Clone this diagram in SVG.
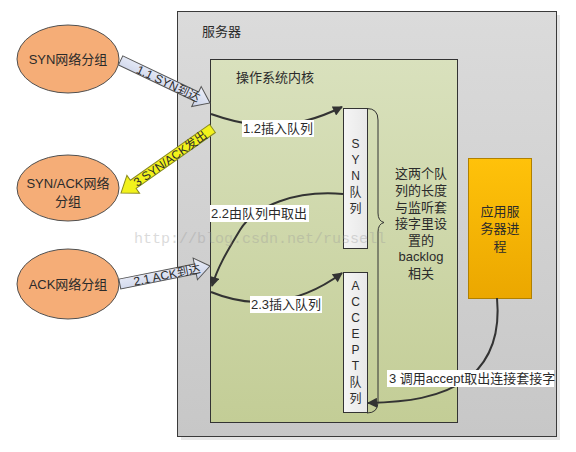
<svg xmlns="http://www.w3.org/2000/svg" width="576" height="452" viewBox="0 0 576 452">
<style>
text{font-family:"Liberation Sans","Noto Sans CJK SC",sans-serif;fill:#2b2b2b;}
.t13{font-size:13px;}
.t12{font-size:12px;}
.mid{text-anchor:middle;}
.conn{fill:none;stroke:#333;stroke-width:2;}
.lbl{fill:#fff;}
.ell{fill:#f5ad77;stroke:#505050;stroke-width:1;}
.q{fill:url(#gq);stroke:#333;stroke-width:1;}
</style>
<defs>
<linearGradient id="gs" x1="0" y1="0" x2="0" y2="1"><stop offset="0" stop-color="#dbdbdb"/><stop offset="1" stop-color="#c7c7c7"/></linearGradient>
<linearGradient id="gk" x1="0" y1="0" x2="0" y2="1"><stop offset="0" stop-color="#d9e1bd"/><stop offset="1" stop-color="#c3cd96"/></linearGradient>
<linearGradient id="gq" x1="0" y1="0" x2="1" y2="0"><stop offset="0" stop-color="#f5f5f5"/><stop offset="1" stop-color="#e8e8e8"/></linearGradient>
<linearGradient id="go" x1="0" y1="0" x2="0" y2="1"><stop offset="0" stop-color="#ffc20a"/><stop offset="1" stop-color="#eba700"/></linearGradient>
<linearGradient id="gb" x1="0" y1="0" x2="0" y2="1"><stop offset="0" stop-color="#eef1fa"/><stop offset="1" stop-color="#c9d1e8"/></linearGradient>
<marker id="ah" viewBox="0 0 10 10" refX="9" refY="5" markerWidth="11" markerHeight="10" markerUnits="userSpaceOnUse" orient="auto">
<path d="M0,0 L10,5 L0,10 z" fill="#333"/>
</marker>
</defs>

<g id="server">
<rect x="181" y="15" width="379" height="425" fill="#e6e6e6"/>
<rect x="177.5" y="11.5" width="379" height="425" fill="url(#gs)" stroke="#3a3a3a" stroke-width="1"/>
<text class="t13" x="202" y="36">服务器</text>
</g>

<g id="kernel">
<rect x="210.5" y="59.5" width="247" height="363" fill="url(#gk)" stroke="#333" stroke-width="1"/>
<text class="t13" x="236" y="82">操作系统内核</text>
</g>

<g id="syn-queue">
<rect class="q" x="343.5" y="108.5" width="24" height="140"/>
<text class="t12 mid" x="355.5" y="148">S</text>
<text class="t12 mid" x="355.5" y="164">Y</text>
<text class="t12 mid" x="355.5" y="180">N</text>
<text class="t12 mid" x="355.5" y="197">队</text>
<text class="t12 mid" x="355.5" y="213">列</text>
</g>

<g id="accept-queue">
<rect class="q" x="343.5" y="272.5" width="24" height="140"/>
<text class="t12 mid" x="355.5" y="290">A</text>
<text class="t12 mid" x="355.5" y="306">C</text>
<text class="t12 mid" x="355.5" y="322">C</text>
<text class="t12 mid" x="355.5" y="338">E</text>
<text class="t12 mid" x="355.5" y="354">P</text>
<text class="t12 mid" x="355.5" y="370">T</text>
<text class="t12 mid" x="355.5" y="387">队</text>
<text class="t12 mid" x="355.5" y="403">列</text>
</g>

<g id="brace">
<path d="M367,108.5 Q378,108.5 378,120 L378,213 Q378,221 384,222.5 Q378,224 378,232 L378,402 Q378,413 367,413" fill="none" stroke="#333" stroke-width="1"/>
<text class="t13 mid" x="421" y="178">这两个队</text>
<text class="t13 mid" x="421" y="195">列的长度</text>
<text class="t13 mid" x="421" y="212">与监听套</text>
<text class="t13 mid" x="421" y="228">接字里设</text>
<text class="t13 mid" x="421" y="245">置的</text>
<text class="t13 mid" x="421" y="261">backlog</text>
<text class="t13 mid" x="421" y="278">相关</text>
</g>

<g id="app">
<rect x="468.5" y="158.5" width="63" height="140" fill="url(#go)" stroke="#b08000" stroke-width="1"/>
<text class="t13 mid" x="500" y="216">应用服</text>
<text class="t13 mid" x="500" y="233">务器进</text>
<text class="t13 mid" x="500" y="251">程</text>
</g>

<g id="syn-packet">
<ellipse class="ell" cx="68" cy="59" rx="51" ry="34"/>
<text class="t13 mid" x="68" y="64">SYN网络分组</text>
</g>
<g id="synack-packet">
<ellipse class="ell" cx="68" cy="188" rx="51" ry="33"/>
<text class="t13 mid" x="68" y="188">SYN/ACK网络</text>
<text class="t13 mid" x="68" y="206">分组</text>
</g>
<g id="ack-packet">
<ellipse class="ell" cx="68" cy="284" rx="51" ry="35"/>
<text class="t13 mid" x="68" y="289">ACK网络分组</text>
</g>

<g id="connectors">
<g transform="translate(210,103) rotate(25.5)">
<path d="M-99,-5 L-15,-5 L-15,-11 L0,0 L-15,11 L-15,5 L-99,5 z" fill="url(#gb)" stroke="#555" stroke-width="1"/>
<text class="t12 mid" x="-46" y="4.5">1.1 SYN到达</text>
</g>
<g transform="translate(121,193) rotate(-35.2)">
<path d="M112,-5 L15,-5 L15,-11 L0,0 L15,11 L15,5 L112,5 z" fill="#f2f21c" stroke="#8a8a20" stroke-width="1"/>
<text class="t12 mid" x="60" y="4.5">3 SYN/ACK发出</text>
</g>
<g transform="translate(210,266) rotate(-11.3)">
<path d="M-92,-5 L-15,-5 L-15,-11 L0,0 L-15,11 L-15,5 L-92,5 z" fill="url(#gb)" stroke="#555" stroke-width="1"/>
<text class="t12 mid" x="-44" y="4.5">2.1 ACK到达</text>
</g>

<path class="conn" d="M211,114 C245,126 285,135 342,107" marker-end="url(#ah)"/>
<path class="conn" d="M343,194 C295,190 255,206 240,230 C228,250 218,266 212,286" marker-end="url(#ah)"/>
<path class="conn" d="M211,292 C245,306 292,310 342,273" marker-end="url(#ah)"/>
<path class="conn" d="M497,298 C500,330 492,358 470,377 C440,399 405,402 368,403" marker-end="url(#ah)"/>

<rect class="lbl" x="242" y="120" width="72" height="17"/>
<text class="t13" x="243" y="133">1.2插入队列</text>
<rect class="lbl" x="210" y="205" width="99" height="17"/>
<text class="t13" x="211" y="218">2.2由队列中取出</text>
<rect class="lbl" x="250" y="296" width="72" height="17"/>
<text class="t13" x="251" y="309">2.3插入队列</text>
<rect class="lbl" x="387" y="370" width="167" height="17"/>
<text class="t13" x="389" y="383">3 调用accept取出连接套接字</text>
</g>

<text x="134" y="243" style="font-family:'Liberation Mono',monospace;font-size:15px;fill:#9a9a9a;opacity:0.35">http://blog.csdn.net/russell</text>
</svg>
